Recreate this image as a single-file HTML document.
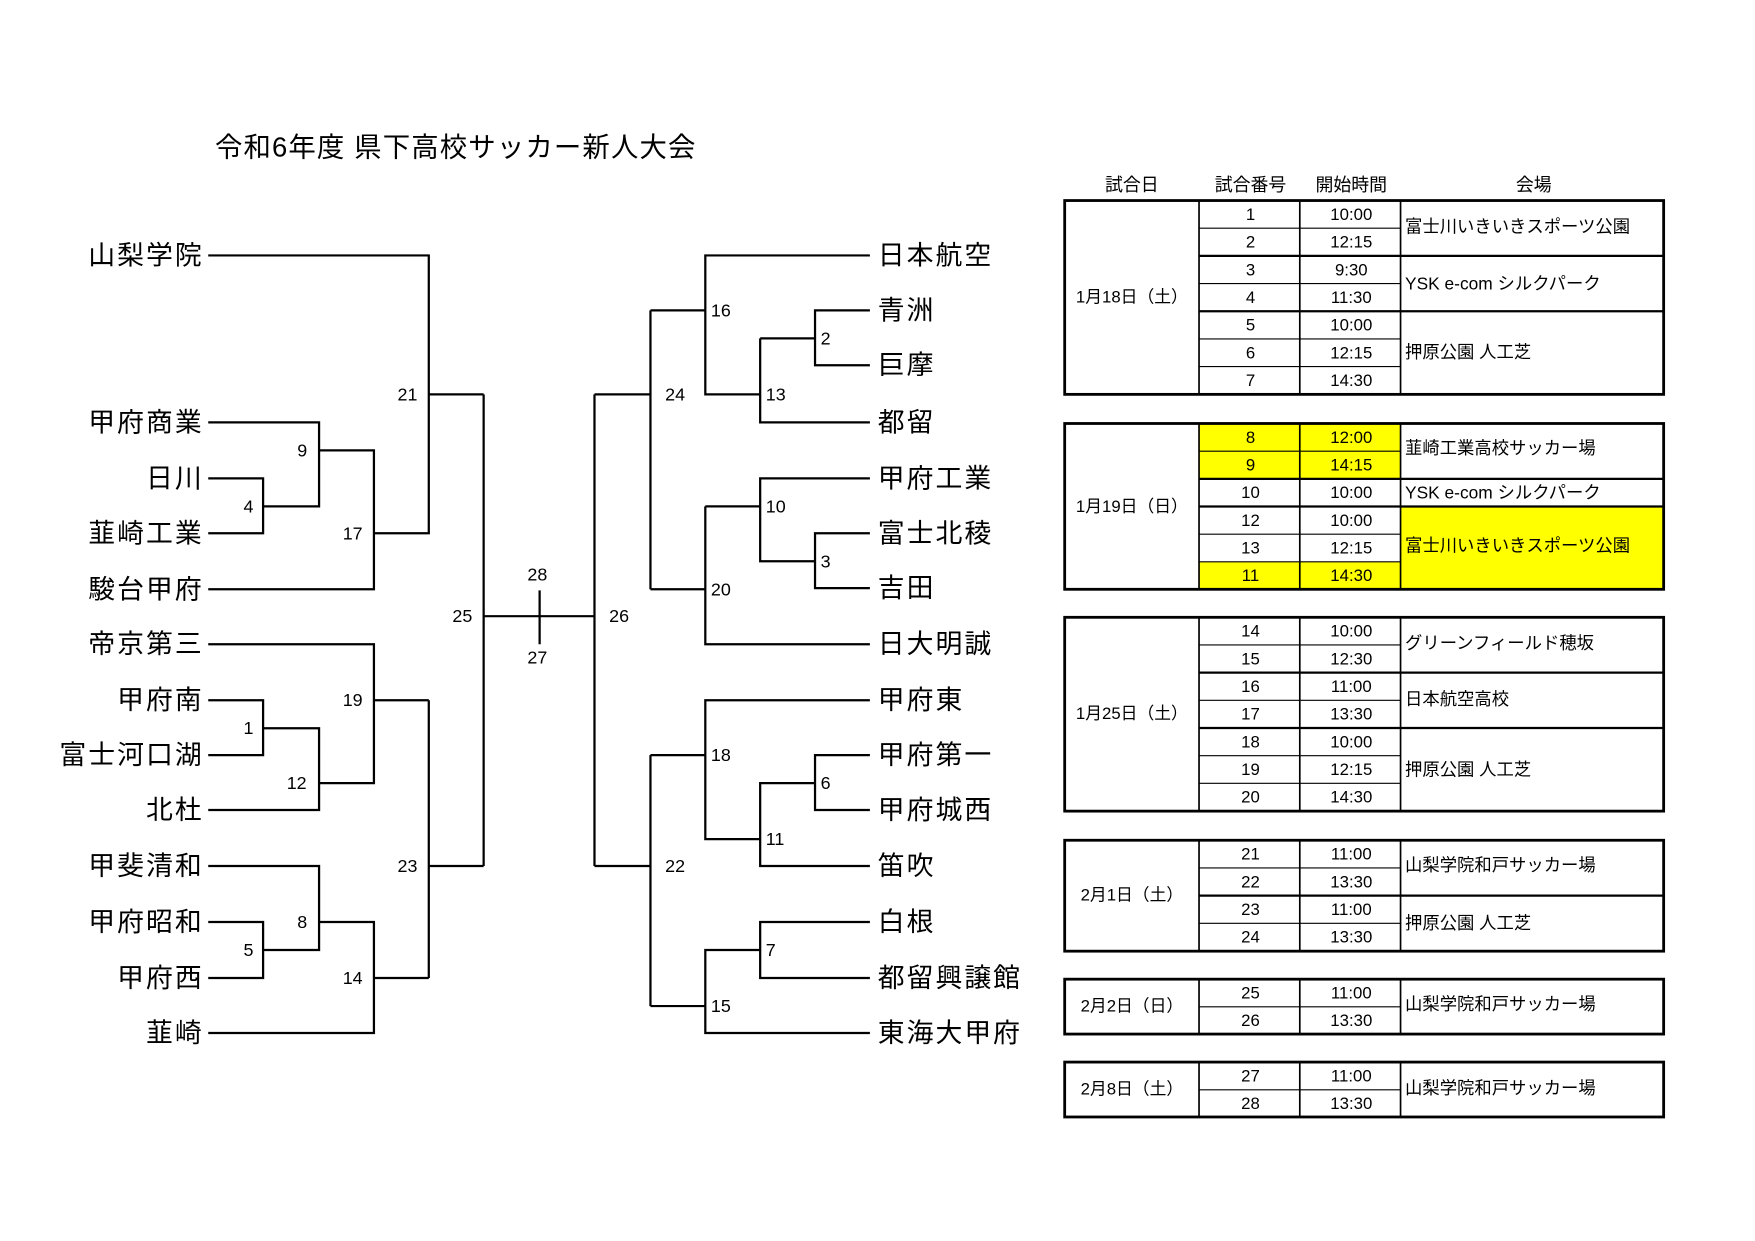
<!DOCTYPE html>
<html><head><meta charset="utf-8"><style>
html,body{margin:0;padding:0;background:#fff;}
svg{display:block;}
text{font-family:"Liberation Sans","Noto Sans CJK JP",sans-serif;fill:#000;}
.n{font-size:24px;letter-spacing:1.8px;}
.l{font-size:16px;}
.t{font-size:15px;}
.v{font-size:15.5px;}
</style></head><body>
<svg width="1755" height="1241" viewBox="0 0 1567.6 1107.7" preserveAspectRatio="none" xmlns="http://www.w3.org/2000/svg">
<text x="192" y="131" dominant-baseline="central" style="font-size:24.5px;letter-spacing:1px">令和6年度 県下高校サッカー新人大会</text>

<g fill="none" stroke="#000" stroke-width="2">
<path d="M186 228H383V476H334 M186 377H285V452H235 M186 427H235V476H186 M285 402H334V526H186 M383 352H432
M186 575H334V699H285 M186 625H235V674H186 M235 650H285V723H186 M334 625H383
M186 773H285V848H235 M186 823H235V873H186 M285 823H334V922H186 M334 873H383
M383 625V873 M383 773H432 M432 352V773 M432 550H531 M482 527V575 M531 352V773
M531 352H581 M581 277V526 M581 277H630 M777 228H630V352H679 M679 302V377H777 M679 302H728 M777 277H728V326H777
M581 526H630 M630 452V575H777 M630 452H679 M777 427H679V501H728 M777 476H728V525H777
M531 773H581 M581 674V898 M581 674H630 M777 625H630V749H679 M777 773H679V699H728 M777 674H728V723H777
M581 898H630 M777 922H630V848H679 M777 823H679V873H777"/>
</g>

<g class="n" text-anchor="end" dominant-baseline="central">
<text x="182" y="228">山梨学院</text>
<text x="182" y="377">甲府商業</text>
<text x="182" y="427">日川</text>
<text x="182" y="476">韮崎工業</text>
<text x="182" y="526">駿台甲府</text>
<text x="182" y="575">帝京第三</text>
<text x="182" y="625">甲府南</text>
<text x="182" y="674">富士河口湖</text>
<text x="182" y="723">北杜</text>
<text x="182" y="773">甲斐清和</text>
<text x="182" y="823">甲府昭和</text>
<text x="182" y="873">甲府西</text>
<text x="182" y="922">韮崎</text>
</g>
<g class="n" dominant-baseline="central">
<text x="784" y="228">日本航空</text>
<text x="784" y="277">青洲</text>
<text x="784" y="326">巨摩</text>
<text x="784" y="377">都留</text>
<text x="784" y="427">甲府工業</text>
<text x="784" y="476">富士北稜</text>
<text x="784" y="525">吉田</text>
<text x="784" y="575">日大明誠</text>
<text x="784" y="625">甲府東</text>
<text x="784" y="674">甲府第一</text>
<text x="784" y="723">甲府城西</text>
<text x="784" y="773">笛吹</text>
<text x="784" y="823">白根</text>
<text x="784" y="873">都留興譲館</text>
<text x="784" y="922">東海大甲府</text>
</g>
<g class="l" text-anchor="middle" dominant-baseline="central">
<text x="364" y="352">21</text><text x="270" y="402">9</text><text x="222" y="452">4</text><text x="315" y="476">17</text>
<text x="413" y="550">25</text><text x="222" y="650">1</text><text x="315" y="625">19</text><text x="265" y="699">12</text>
<text x="364" y="773">23</text><text x="270" y="823">8</text><text x="222" y="848">5</text><text x="315" y="873">14</text>
<text x="480" y="513">28</text><text x="480" y="587">27</text><text x="553" y="550">26</text>
<text x="603" y="352">24</text><text x="603" y="773">22</text>
</g>
<g class="l" dominant-baseline="central">
<text x="635" y="277">16</text><text x="733" y="302">2</text><text x="684" y="352">13</text>
<text x="684" y="452">10</text><text x="733" y="501">3</text><text x="635" y="526">20</text>
<text x="635" y="674">18</text><text x="733" y="699">6</text><text x="684" y="749">11</text>
<text x="684" y="848">7</text><text x="635" y="898">15</text>
</g>

<g class="t" text-anchor="middle" dominant-baseline="central" style="font-size:16px">
<text x="1011" y="165">試合日</text><text x="1117" y="165">試合番号</text><text x="1207" y="165">開始時間</text><text x="1370" y="165">会場</text>
</g>

<g fill="#ffff00">
<rect x="1071" y="378" width="180" height="49.4"/>
<rect x="1071" y="501.5" width="180" height="24.5"/>
<rect x="1251" y="452.1" width="235" height="73.9"/>
</g>

<g fill="none" stroke="#000">
<path stroke-width="1" d="M1071 203.7H1251 M1071 253.1H1251 M1071 302.5H1251 M1071 327.2H1251
M1071 402.7H1251 M1071 476.8H1251 M1071 501.5H1251
M1071 575.7H1251 M1071 625.1H1251 M1071 674.5H1251 M1071 699.2H1251
M1071 774.7H1251 M1071 824.1H1251 M1071 898.7H1251 M1071 972.7H1251"/>
<path stroke-width="2" d="M1071 228.4H1486 M1071 277.8H1486 M1071 427.4H1486 M1071 452.1H1486 M1071 600.4H1486 M1071 649.8H1486 M1071 799.4H1486"/>
<path stroke-width="1.5" d="M1071 179V352 M1161 179V352 M1251 179V352 M1071 378V526 M1161 378V526 M1251 378V526
M1071 551V724 M1161 551V724 M1251 551V724 M1071 750V849 M1161 750V849 M1251 750V849
M1071 874V923 M1161 874V923 M1251 874V923 M1071 948V997 M1161 948V997 M1251 948V997"/>
<g stroke-width="2.5">
<rect x="951" y="179" width="535" height="173"/>
<rect x="951" y="378" width="535" height="148"/>
<rect x="951" y="551" width="535" height="173"/>
<rect x="951" y="750" width="535" height="99"/>
<rect x="951" y="874" width="535" height="49"/>
<rect x="951" y="948" width="535" height="49"/>
</g>
</g>

<g class="t" text-anchor="middle" dominant-baseline="central">
<text x="1011" y="265">1月18日（土）</text>
<text x="1011" y="452">1月19日（日）</text>
<text x="1011" y="637">1月25日（土）</text>
<text x="1011" y="799">2月1日（土）</text>
<text x="1011" y="898">2月2日（日）</text>
<text x="1011" y="972">2月8日（土）</text>

<text x="1117" y="191.4">1</text><text x="1207" y="191.4">10:00</text>
<text x="1117" y="216.1">2</text><text x="1207" y="216.1">12:15</text>
<text x="1117" y="240.8">3</text><text x="1207" y="240.8">9:30</text>
<text x="1117" y="265.5">4</text><text x="1207" y="265.5">11:30</text>
<text x="1117" y="290.2">5</text><text x="1207" y="290.2">10:00</text>
<text x="1117" y="314.9">6</text><text x="1207" y="314.9">12:15</text>
<text x="1117" y="339.6">7</text><text x="1207" y="339.6">14:30</text>

<text x="1117" y="390.4">8</text><text x="1207" y="390.4">12:00</text>
<text x="1117" y="415.1">9</text><text x="1207" y="415.1">14:15</text>
<text x="1117" y="439.8">10</text><text x="1207" y="439.8">10:00</text>
<text x="1117" y="464.5">12</text><text x="1207" y="464.5">10:00</text>
<text x="1117" y="489.2">13</text><text x="1207" y="489.2">12:15</text>
<text x="1117" y="513.9">11</text><text x="1207" y="513.9">14:30</text>

<text x="1117" y="563.4">14</text><text x="1207" y="563.4">10:00</text>
<text x="1117" y="588.1">15</text><text x="1207" y="588.1">12:30</text>
<text x="1117" y="612.8">16</text><text x="1207" y="612.8">11:00</text>
<text x="1117" y="637.5">17</text><text x="1207" y="637.5">13:30</text>
<text x="1117" y="662.2">18</text><text x="1207" y="662.2">10:00</text>
<text x="1117" y="686.9">19</text><text x="1207" y="686.9">12:15</text>
<text x="1117" y="711.6">20</text><text x="1207" y="711.6">14:30</text>

<text x="1117" y="762.4">21</text><text x="1207" y="762.4">11:00</text>
<text x="1117" y="787.1">22</text><text x="1207" y="787.1">13:30</text>
<text x="1117" y="811.8">23</text><text x="1207" y="811.8">11:00</text>
<text x="1117" y="836.5">24</text><text x="1207" y="836.5">13:30</text>

<text x="1117" y="886.4">25</text><text x="1207" y="886.4">11:00</text>
<text x="1117" y="911.1">26</text><text x="1207" y="911.1">13:30</text>
<text x="1117" y="960.4">27</text><text x="1207" y="960.4">11:00</text>
<text x="1117" y="985.1">28</text><text x="1207" y="985.1">13:30</text>
</g>

<g class="v" dominant-baseline="central">
<text x="1255" y="202">富士川いきいきスポーツ公園</text>
<text x="1255" y="253">YSK e-com シルクパーク</text>
<text x="1255" y="314">押原公園 人工芝</text>
<text x="1255" y="400">韮崎工業高校サッカー場</text>
<text x="1255" y="439.8">YSK e-com シルクパーク</text>
<text x="1255" y="487">富士川いきいきスポーツ公園</text>
<text x="1255" y="574">グリーンフィールド穂坂</text>
<text x="1255" y="624">日本航空高校</text>
<text x="1255" y="687">押原公園 人工芝</text>
<text x="1255" y="772">山梨学院和戸サッカー場</text>
<text x="1255" y="824">押原公園 人工芝</text>
<text x="1255" y="896">山梨学院和戸サッカー場</text>
<text x="1255" y="971">山梨学院和戸サッカー場</text>
</g>
</svg>
</body></html>
